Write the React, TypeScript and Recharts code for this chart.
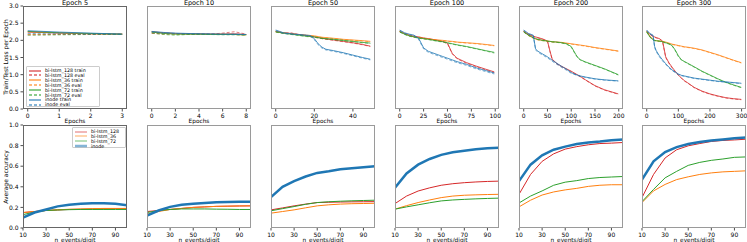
import React from 'react';
import { LineChart, Line, XAxis, YAxis } from 'recharts';

const RED = '#d62728';
const ORANGE = '#ff7f0e';
const GREEN = '#2ca02c';
const BLUE = '#1f77b4';
const FONT = '"DejaVu Sans", sans-serif';

// ---- top row: train / eval loss per epoch ----
const e5Epochs = [0, 1, 2, 3];
const e5RedTrain = [2.24, 2.21, 2.19, 2.18];
const e5RedEval = [2.16, 2.17, 2.17, 2.18];
const e5OrangeTrain = [2.25, 2.22, 2.19, 2.18];
const e5OrangeEval = [2.17, 2.17, 2.18, 2.17];
const e5GreenTrain = [2.26, 2.22, 2.2, 2.18];
const e5GreenEval = [2.15, 2.16, 2.17, 2.17];
const e5InodeTrain = [2.28, 2.24, 2.21, 2.18];
const e5InodeEval = [2.2, 2.19, 2.18, 2.18];

const e10Epochs = [0, 1, 2, 3, 4, 5, 6, 7, 8];
const e10RedTrain = [2.25, 2.22, 2.2, 2.19, 2.19, 2.18, 2.18, 2.19, 2.17];
const e10RedEval = [2.2, 2.19, 2.19, 2.18, 2.18, 2.18, 2.21, 2.25, 2.18];
const e10OrangeTrain = [2.25, 2.21, 2.19, 2.19, 2.18, 2.18, 2.18, 2.17, 2.16];
const e10OrangeEval = [2.22, 2.18, 2.18, 2.18, 2.18, 2.17, 2.17, 2.17, 2.15];
const e10GreenTrain = [2.24, 2.2, 2.18, 2.18, 2.18, 2.17, 2.17, 2.17, 2.16];
const e10GreenEval = [2.21, 2.17, 2.15, 2.17, 2.17, 2.17, 2.16, 2.16, 2.15];
const e10InodeTrain = [2.26, 2.23, 2.21, 2.2, 2.19, 2.19, 2.18, 2.18, 2.17];
const e10InodeEval = [2.24, 2.21, 2.2, 2.19, 2.19, 2.18, 2.18, 2.17, 2.17];

const e50Epochs = [0, 4, 8, 12, 16, 18, 20, 22, 24, 26, 30, 35, 40, 45, 49];
const e50RedTrain = [2.26, 2.22, 2.2, 2.17, 2.14, 2.12, 2.1, 2.08, 2.06, 2.04, 2.01, 1.97, 1.93, 1.88, 1.83];
const e50RedEval = [2.25, 2.21, 2.22, 2.16, 2.13, 2.11, 2.09, 2.07, 2.05, 2.03, 2.0, 1.96, 1.92, 1.87, 1.82];
const e50OrangeTrain = [2.26, 2.22, 2.19, 2.17, 2.15, 2.14, 2.13, 2.11, 2.09, 2.08, 2.06, 2.03, 2.01, 1.99, 1.97];
const e50OrangeEval = [2.25, 2.21, 2.18, 2.16, 2.14, 2.13, 2.12, 2.1, 2.08, 2.07, 2.05, 2.02, 2.0, 1.98, 1.96];
const e50GreenTrain = [2.25, 2.21, 2.18, 2.15, 2.12, 2.11, 2.1, 2.08, 2.06, 2.05, 2.03, 2.0, 1.97, 1.94, 1.92];
const e50GreenEval = [2.24, 2.2, 2.17, 2.14, 2.11, 2.1, 2.09, 2.07, 2.05, 2.04, 2.02, 1.99, 1.96, 1.93, 1.91];
const e50InodeTrain = [2.3, 2.22, 2.19, 2.17, 2.15, 2.14, 2.05, 1.9, 1.8, 1.74, 1.7, 1.64, 1.57, 1.5, 1.45];
const e50InodeEval = [2.28, 2.2, 2.18, 2.16, 2.14, 2.12, 2.02, 1.87, 1.77, 1.72, 1.68, 1.62, 1.55, 1.48, 1.43];

const e100Epochs = [0, 5, 10, 15, 20, 25, 30, 40, 45, 50, 55, 60, 70, 80, 90, 99];
const e100RedTrain = [2.26, 2.2, 2.15, 2.12, 2.1, 2.07, 2.05, 2.0, 1.97, 1.92, 1.62, 1.48, 1.35, 1.25, 1.16, 1.08];
const e100RedEval = [2.25, 2.19, 2.14, 2.11, 2.09, 2.06, 2.04, 1.99, 1.96, 1.9, 1.6, 1.46, 1.33, 1.23, 1.14, 1.06];
const e100OrangeTrain = [2.26, 2.2, 2.14, 2.1, 2.08, 2.06, 2.04, 2.01, 2.0, 1.98, 1.97, 1.95, 1.93, 1.91, 1.88, 1.85];
const e100OrangeEval = [2.25, 2.19, 2.13, 2.09, 2.07, 2.05, 2.03, 2.0, 1.99, 1.97, 1.96, 1.94, 1.92, 1.9, 1.87, 1.84];
const e100GreenTrain = [2.25, 2.18, 2.13, 2.1, 2.07, 2.05, 2.03, 1.98, 1.96, 1.93, 1.9, 1.87, 1.82, 1.76, 1.7, 1.65];
const e100GreenEval = [2.24, 2.17, 2.12, 2.09, 2.06, 2.04, 2.02, 1.97, 1.95, 1.92, 1.89, 1.86, 1.81, 1.75, 1.69, 1.63];
const e100InodeTrain = [2.3, 2.22, 2.18, 2.15, 2.05, 1.78, 1.68, 1.58, 1.53, 1.48, 1.43, 1.38, 1.3, 1.2, 1.12, 1.05];
const e100InodeEval = [2.28, 2.2, 2.16, 2.13, 2.02, 1.75, 1.65, 1.55, 1.5, 1.45, 1.4, 1.35, 1.27, 1.17, 1.09, 1.02];

const e200Epochs = [0, 10, 20, 25, 30, 40, 50, 55, 60, 70, 80, 90, 100, 110, 115, 120, 130, 150, 170, 199];
const e200RedTrain = [2.26, 2.18, 2.12, 2.1, 2.08, 2.04, 1.98, 1.7, 1.45, 1.32, 1.24, 1.17, 1.1, 1.02, 0.98, 0.94, 0.85, 0.68, 0.56, 0.44];
const e200RedEval = [2.25, 2.17, 2.11, 2.09, 2.07, 2.03, 1.97, 1.68, 1.44, 1.31, 1.23, 1.16, 1.09, 1.01, 0.97, 0.93, 0.84, 0.67, 0.55, 0.43];
const e200OrangeTrain = [2.26, 2.15, 2.07, 2.04, 2.02, 2.0, 1.98, 1.97, 1.96, 1.95, 1.94, 1.92, 1.9, 1.88, 1.87, 1.86, 1.84, 1.79, 1.75, 1.69];
const e200OrangeEval = [2.25, 2.14, 2.06, 2.03, 2.01, 1.99, 1.97, 1.96, 1.95, 1.94, 1.93, 1.91, 1.89, 1.87, 1.86, 1.85, 1.83, 1.78, 1.74, 1.68];
const e200GreenTrain = [2.25, 2.15, 2.08, 2.05, 2.03, 2.0, 1.98, 1.97, 1.96, 1.95, 1.93, 1.9, 1.82, 1.58, 1.48, 1.43, 1.37, 1.27, 1.17, 1.0];
const e200GreenEval = [2.24, 2.14, 2.07, 2.04, 2.02, 1.99, 1.97, 1.96, 1.95, 1.94, 1.92, 1.89, 1.8, 1.56, 1.47, 1.42, 1.36, 1.26, 1.16, 0.99];
const e200InodeTrain = [2.3, 2.2, 2.15, 1.75, 1.68, 1.6, 1.52, 1.47, 1.42, 1.33, 1.24, 1.16, 1.06, 1.0, 0.98, 0.96, 0.93, 0.88, 0.85, 0.82];
const e200InodeEval = [2.28, 2.18, 2.13, 1.72, 1.65, 1.57, 1.49, 1.44, 1.39, 1.3, 1.21, 1.13, 1.04, 0.99, 0.97, 0.95, 0.92, 0.87, 0.84, 0.81];

const e300Epochs = [0, 10, 20, 25, 30, 40, 50, 60, 70, 80, 90, 100, 110, 120, 130, 150, 175, 200, 225, 250, 275, 299];
const e300RedTrain = [2.26, 2.18, 2.12, 2.1, 2.08, 2.05, 1.98, 1.52, 1.35, 1.22, 1.1, 0.99, 0.9, 0.82, 0.76, 0.63, 0.52, 0.44, 0.38, 0.33, 0.3, 0.28];
const e300RedEval = [2.25, 2.17, 2.11, 2.09, 2.07, 2.04, 1.96, 1.5, 1.33, 1.2, 1.08, 0.98, 0.89, 0.81, 0.75, 0.62, 0.51, 0.43, 0.37, 0.32, 0.29, 0.27];
const e300OrangeTrain = [2.26, 2.12, 2.03, 2.0, 1.99, 1.98, 1.97, 1.95, 1.92, 1.89, 1.87, 1.85, 1.83, 1.81, 1.8, 1.77, 1.72, 1.65, 1.58, 1.5, 1.42, 1.35];
const e300OrangeEval = [2.25, 2.11, 2.02, 1.99, 1.98, 1.97, 1.96, 1.94, 1.91, 1.88, 1.86, 1.84, 1.82, 1.8, 1.79, 1.76, 1.71, 1.64, 1.57, 1.49, 1.41, 1.34];
const e300GreenTrain = [2.25, 2.1, 2.02, 2.0, 1.99, 1.98, 1.96, 1.93, 1.9, 1.85, 1.72, 1.55, 1.43, 1.38, 1.33, 1.23, 1.1, 0.99, 0.88, 0.78, 0.7, 0.63];
const e300GreenEval = [2.24, 2.09, 2.01, 1.99, 1.98, 1.97, 1.95, 1.92, 1.89, 1.84, 1.7, 1.53, 1.42, 1.37, 1.32, 1.22, 1.09, 0.98, 0.87, 0.77, 0.69, 0.62];
const e300InodeTrain = [2.3, 2.2, 2.15, 1.82, 1.7, 1.55, 1.43, 1.32, 1.22, 1.14, 1.08, 1.02, 0.98, 0.96, 0.94, 0.9, 0.87, 0.84, 0.81, 0.79, 0.77, 0.75];
const e300InodeEval = [2.28, 2.18, 2.13, 1.79, 1.67, 1.52, 1.4, 1.3, 1.2, 1.12, 1.06, 1.0, 0.97, 0.95, 0.93, 0.89, 0.86, 0.83, 0.8, 0.78, 0.76, 0.74];

// ---- bottom row: average accuracy vs n_events/digit ----
const nEvents = [10, 20, 30, 40, 50, 60, 70, 80, 90, 100];
const a5Red = [0.15, 0.16, 0.17, 0.175, 0.18, 0.182, 0.185, 0.187, 0.188, 0.19];
const a5Orange = [0.15, 0.16, 0.17, 0.177, 0.182, 0.185, 0.188, 0.19, 0.19, 0.19];
const a5Green = [0.13, 0.155, 0.17, 0.175, 0.178, 0.18, 0.18, 0.18, 0.18, 0.18];
const a5Inode = [0.1, 0.15, 0.18, 0.21, 0.225, 0.235, 0.24, 0.24, 0.235, 0.22];

const a10Red = [0.16, 0.17, 0.18, 0.19, 0.2, 0.205, 0.21, 0.212, 0.214, 0.215];
const a10Orange = [0.135, 0.16, 0.18, 0.19, 0.2, 0.205, 0.21, 0.212, 0.214, 0.215];
const a10Green = [0.15, 0.17, 0.18, 0.185, 0.185, 0.185, 0.183, 0.182, 0.18, 0.18];
const a10Inode = [0.12, 0.17, 0.205, 0.225, 0.235, 0.243, 0.25, 0.253, 0.255, 0.255];

const a50Red = [0.176, 0.195, 0.215, 0.232, 0.247, 0.25, 0.252, 0.254, 0.255, 0.256];
const a50Orange = [0.144, 0.16, 0.176, 0.196, 0.215, 0.225, 0.232, 0.236, 0.238, 0.24];
const a50Green = [0.167, 0.188, 0.208, 0.23, 0.247, 0.255, 0.26, 0.264, 0.267, 0.27];
const a50Inode = [0.3, 0.4, 0.455, 0.5, 0.535, 0.55, 0.57, 0.58, 0.59, 0.6];

const a100Red = [0.237, 0.31, 0.359, 0.39, 0.415, 0.43, 0.44, 0.447, 0.452, 0.455];
const a100Orange = [0.183, 0.217, 0.247, 0.272, 0.295, 0.31, 0.318, 0.322, 0.325, 0.327];
const a100Green = [0.183, 0.205, 0.225, 0.245, 0.263, 0.272, 0.278, 0.283, 0.287, 0.29];
const a100Inode = [0.39, 0.53, 0.615, 0.67, 0.71, 0.735, 0.75, 0.765, 0.775, 0.78];

const a200Red = [0.327, 0.52, 0.647, 0.72, 0.766, 0.79, 0.808, 0.82, 0.824, 0.83];
const a200Orange = [0.205, 0.27, 0.32, 0.35, 0.37, 0.385, 0.404, 0.415, 0.42, 0.42];
const a200Green = [0.243, 0.31, 0.36, 0.415, 0.445, 0.46, 0.48, 0.49, 0.495, 0.5];
const a200Inode = [0.455, 0.615, 0.705, 0.76, 0.79, 0.815, 0.83, 0.84, 0.853, 0.86];

const a300Red = [0.295, 0.52, 0.68, 0.76, 0.798, 0.82, 0.84, 0.85, 0.855, 0.862];
const a300Orange = [0.247, 0.36, 0.423, 0.47, 0.497, 0.52, 0.535, 0.545, 0.55, 0.555];
const a300Green = [0.256, 0.375, 0.487, 0.55, 0.608, 0.637, 0.657, 0.67, 0.686, 0.69];
const a300Inode = [0.47, 0.647, 0.737, 0.785, 0.815, 0.835, 0.85, 0.86, 0.872, 0.878];

const lossTicks = [0, 0.5, 1, 1.5, 2, 2.5, 3];
const accTicks = [0, 0.2, 0.4, 0.6, 0.8, 1];
const eventTicks = [10, 30, 50, 70, 90];

type Series = { key: string; values: number[]; color: string; dashed?: boolean; width?: number; opacity?: number };

const lossSeries = (r: number[], re: number[], o: number[], oe: number[], g: number[], ge: number[], b: number[], be: number[]): Series[] => [
  { key: 'rt', values: r, color: RED, opacity: 0.8 },
  { key: 're', values: re, color: RED, dashed: true, opacity: 0.6 },
  { key: 'ot', values: o, color: ORANGE, opacity: 0.8 },
  { key: 'oe', values: oe, color: ORANGE, dashed: true, opacity: 0.6 },
  { key: 'gt', values: g, color: GREEN, opacity: 0.8 },
  { key: 'ge', values: ge, color: GREEN, dashed: true, opacity: 0.6 },
  { key: 'bt', values: b, color: BLUE, opacity: 0.8 },
  { key: 'be', values: be, color: BLUE, dashed: true, opacity: 0.6 },
];

const accSeries = (r: number[], o: number[], g: number[], b: number[]): Series[] => [
  { key: 'r', values: r, color: RED, width: 1 },
  { key: 'o', values: o, color: ORANGE, width: 1 },
  { key: 'g', values: g, color: GREEN, width: 1 },
  { key: 'b', values: b, color: BLUE, width: 2.5 },
];

const PW = 104;
const PH = 103;
const XH = 10;
const YW = 23;
// room around the plot so that edge tick labels are not clipped
const MT = 5;
const ML = 8;
const MR = 8;

interface PanelProps {
  left: number;
  top: number;
  xs: number[];
  series: Series[];
  xDomain: [number, number];
  xTicks: number[];
  yDomain: [number, number];
  yTicks: number[];
  showY?: boolean;
  title?: string;
  xLabel: string;
  labelTop: number;
}

const Panel: React.FC<PanelProps> = ({ left, top, xs, series, xDomain, xTicks, yDomain, yTicks, showY = false, title, xLabel, labelTop }) => {
  const yw = showY ? YW : 0;
  const ml = showY ? 0 : ML;
  const w = PW + yw + ml + MR;
  const h = PH + XH + MT;
  const rows = xs.map((x, i) => {
    const row: Record<string, number> = { x };
    series.forEach(s => { row[s.key] = s.values[i]; });
    return row;
  });
  const px = yw + ml;
  return (
    <div style={{ position: 'absolute', left: left - px, top: top - MT, width: w, height: h, color: '#000' }}>
      <LineChart width={w} height={h} data={rows} margin={{ top: MT, right: MR, bottom: 0, left: ml }}>
        <XAxis
          dataKey="x"
          type="number"
          domain={xDomain}
          ticks={xTicks}
          interval={0}
          allowDataOverflow
          height={XH}
          axisLine={false}
          tickSize={2.5}
          tickLine={{ stroke: '#000', strokeWidth: 0.7 }}
          tick={{ fontSize: 6, fill: '#000', fontFamily: FONT }}
        />
        <YAxis
          type="number"
          domain={yDomain}
          ticks={yTicks}
          interval={0}
          allowDataOverflow
          width={YW}
          hide={!showY}
          axisLine={false}
          tickSize={2.5}
          tickLine={{ stroke: '#000', strokeWidth: 0.7 }}
          tick={{ fontSize: 6, fill: '#000', fontFamily: FONT }}
          tickFormatter={(v: number) => v.toFixed(1)}
        />
        {series.map(s => (
          <Line
            key={s.key}
            dataKey={s.key}
            type="linear"
            stroke={s.color}
            strokeWidth={s.width ?? 1}
            strokeOpacity={s.opacity ?? 1}
            strokeDasharray={s.dashed ? '3 2' : undefined}
            dot={false}
            isAnimationActive={false}
          />
        ))}
      </LineChart>
      <div
        style={{
          position: 'absolute', left: px, top: MT, width: PW, height: PH, boxSizing: 'border-box',
          border: showY ? '1px solid #666' : '1.5px solid #9a9a9a', pointerEvents: 'none',
        }}
      />
      {title && (
        <div style={{ position: 'absolute', left: px, top: -1, width: PW, textAlign: 'center', fontSize: 6.5, fontFamily: FONT, lineHeight: '7px', color: '#000' }}>
          {title}
        </div>
      )}
      <div style={{ position: 'absolute', left: px, top: MT + PH + labelTop, width: PW, textAlign: 'center', fontSize: 5.8, fontFamily: FONT, lineHeight: '6px', color: '#000' }}>
        {xLabel}
      </div>
    </div>
  );
};

const topLegend = [
  { label: 'bi-lstm_128 train', color: RED, dashed: false },
  { label: 'bi-lstm_128 eval', color: RED, dashed: true },
  { label: 'bi-lstm_36 train', color: ORANGE, dashed: false },
  { label: 'bi-lstm_36 eval', color: ORANGE, dashed: true },
  { label: 'bi-lstm_72 train', color: GREEN, dashed: false },
  { label: 'bi-lstm_72 eval', color: GREEN, dashed: true },
  { label: 'inode train', color: BLUE, dashed: false },
  { label: 'inode eval', color: BLUE, dashed: true },
];

const bottomLegend = [
  { label: 'bi-lstm_128', color: RED, width: 1.2 },
  { label: 'bi-lstm_36', color: ORANGE, width: 1.2 },
  { label: 'bi-lstm_72', color: GREEN, width: 1.2 },
  { label: 'inode', color: BLUE, width: 2.5 },
];

const lefts = [23, 147, 271, 395, 519, 642];
const TOP1 = 6;
const TOP2 = 125;

export default function App() {
  const topPanels = [
    { title: 'Epoch 5', xs: e5Epochs, s: lossSeries(e5RedTrain, e5RedEval, e5OrangeTrain, e5OrangeEval, e5GreenTrain, e5GreenEval, e5InodeTrain, e5InodeEval), d: [-0.15, 3.15] as [number, number], t: [0, 1, 2, 3] },
    { title: 'Epoch 10', xs: e10Epochs, s: lossSeries(e10RedTrain, e10RedEval, e10OrangeTrain, e10OrangeEval, e10GreenTrain, e10GreenEval, e10InodeTrain, e10InodeEval), d: [-0.4, 8.4] as [number, number], t: [0, 2, 4, 6, 8] },
    { title: 'Epoch 50', xs: e50Epochs, s: lossSeries(e50RedTrain, e50RedEval, e50OrangeTrain, e50OrangeEval, e50GreenTrain, e50GreenEval, e50InodeTrain, e50InodeEval), d: [-2.45, 51.45] as [number, number], t: [0, 20, 40] },
    { title: 'Epoch 100', xs: e100Epochs, s: lossSeries(e100RedTrain, e100RedEval, e100OrangeTrain, e100OrangeEval, e100GreenTrain, e100GreenEval, e100InodeTrain, e100InodeEval), d: [-4.95, 103.95] as [number, number], t: [0, 25, 50, 75, 100] },
    { title: 'Epoch 200', xs: e200Epochs, s: lossSeries(e200RedTrain, e200RedEval, e200OrangeTrain, e200OrangeEval, e200GreenTrain, e200GreenEval, e200InodeTrain, e200InodeEval), d: [-9.95, 208.95] as [number, number], t: [0, 50, 100, 150, 200] },
    { title: 'Epoch 300', xs: e300Epochs, s: lossSeries(e300RedTrain, e300RedEval, e300OrangeTrain, e300OrangeEval, e300GreenTrain, e300GreenEval, e300InodeTrain, e300InodeEval), d: [-14.95, 313.95] as [number, number], t: [0, 100, 200, 300] },
  ];
  const bottomPanels = [
    accSeries(a5Red, a5Orange, a5Green, a5Inode),
    accSeries(a10Red, a10Orange, a10Green, a10Inode),
    accSeries(a50Red, a50Orange, a50Green, a50Inode),
    accSeries(a100Red, a100Orange, a100Green, a100Inode),
    accSeries(a200Red, a200Orange, a200Green, a200Inode),
    accSeries(a300Red, a300Orange, a300Green, a300Inode),
  ];

  return (
    <div style={{ position: 'absolute', left: 0, top: 0, width: 747, height: 242, background: '#fff', overflow: 'hidden', fontFamily: FONT, color: '#000' }}>
      {topPanels.map((p, i) => (
        <Panel
          key={p.title}
          left={lefts[i]}
          top={TOP1}
          xs={p.xs}
          series={p.s}
          xDomain={p.d}
          xTicks={p.t}
          yDomain={[0, 3]}
          yTicks={lossTicks}
          showY={i === 0}
          title={p.title}
          xLabel="Epochs"
          labelTop={9}
        />
      ))}
      {bottomPanels.map((s, i) => (
        <Panel
          key={'acc' + i}
          left={lefts[i]}
          top={TOP2}
          xs={nEvents}
          series={s}
          xDomain={[10, 100]}
          xTicks={eventTicks}
          yDomain={[0, 1]}
          yTicks={accTicks}
          showY={i === 0}
          xLabel="n_events/digit"
          labelTop={8.5}
        />
      ))}

      {/* y axis labels */}
      <div style={{ position: 'absolute', left: 5, top: 57, transform: 'translate(-50%, -50%) rotate(-90deg)', whiteSpace: 'nowrap', fontSize: 6 }}>
        Train/Test Loss per Epoch
      </div>
      <div style={{ position: 'absolute', left: 5, top: 177, transform: 'translate(-50%, -50%) rotate(-90deg)', whiteSpace: 'nowrap', fontSize: 6 }}>
        Average accuracy
      </div>

      {/* legend, top left panel */}
      <div style={{ position: 'absolute', left: 26, top: 66, width: 74, height: 41, border: '0.6px solid #ccc', borderRadius: 1, background: 'rgba(255,255,255,0.8)', boxSizing: 'border-box' }}>
        {topLegend.map((e, i) => (
          <div key={e.label} style={{ position: 'absolute', left: 2, top: 1 + i * 4.9, height: 5, display: 'flex', alignItems: 'center', fontSize: 4.8, lineHeight: '5px', whiteSpace: 'nowrap' }}>
            <svg width={12} height={4} style={{ marginRight: 4 }}>
              <line x1={0} y1={2} x2={12} y2={2} stroke={e.color} strokeOpacity={0.55} strokeWidth={2} strokeDasharray={e.dashed ? '3 2' : undefined} />
            </svg>
            {e.label}
          </div>
        ))}
      </div>

      {/* legend, bottom left panel */}
      <div style={{ position: 'absolute', left: 72, top: 127, width: 54, height: 21, border: '0.6px solid #ccc', borderRadius: 1, background: 'rgba(255,255,255,0.8)', boxSizing: 'border-box' }}>
        {bottomLegend.map((e, i) => (
          <div key={e.label} style={{ position: 'absolute', left: 2, top: 1 + i * 4.9, height: 5, display: 'flex', alignItems: 'center', fontSize: 4.8, lineHeight: '5px', whiteSpace: 'nowrap' }}>
            <svg width={12} height={4} style={{ marginRight: 4 }}>
              <line x1={0} y1={2} x2={12} y2={2} stroke={e.color} strokeOpacity={0.55} strokeWidth={e.width} />
            </svg>
            {e.label}
          </div>
        ))}
      </div>
    </div>
  );
}
